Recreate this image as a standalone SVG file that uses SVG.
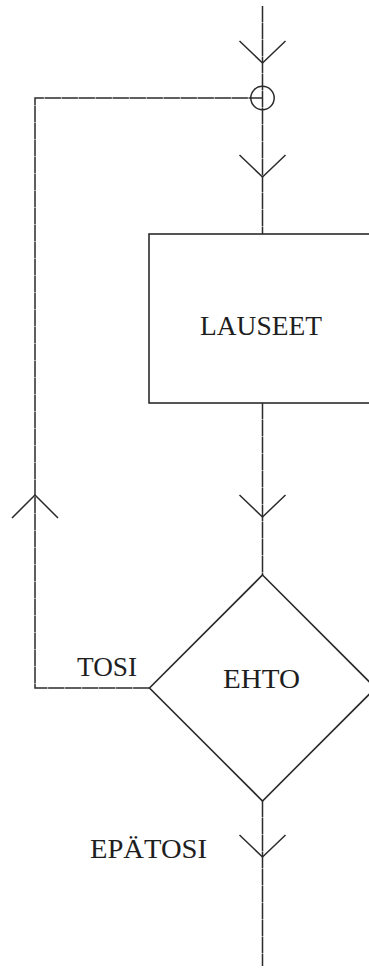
<svg xmlns="http://www.w3.org/2000/svg" width="369" height="969" viewBox="0 0 369 969">
  <style>
    .ln { fill: none; stroke: #2b2b2b; stroke-width: 1.5; stroke-linecap: butt; }
    .flow { stroke-dasharray: 16.4 0.6; }
    .shape { fill: #ffffff; stroke: #2b2b2b; stroke-width: 1.6; }
    .lbl { font-family: "Liberation Serif", "DejaVu Serif", serif; font-size: 27px; fill: #1e1e1e; }
  </style>
  <defs>
    <!-- open V arrowhead pointing down, tip at origin -->
    <path id="vdown" class="ln" d="M -23 -22 L 0 0 L 23 -22"/>
  </defs>
  <rect width="369" height="969" fill="#ffffff"/>

  <g id="connectors">
    <!-- main vertical flow -->
    <line class="ln flow" x1="262.5" y1="6" x2="262.5" y2="234"/>
    <line class="ln flow" x1="262.5" y1="403" x2="262.5" y2="575"/>
    <line class="ln flow" x1="262.5" y1="801" x2="262.5" y2="966"/>
    <!-- loop back from the TOSI branch -->
    <polyline class="ln flow" points="149.5,688 35,688 35,98 262.5,98"/>
    <!-- arrowheads -->
    <use href="#vdown" x="262.5" y="63"/>
    <use href="#vdown" x="262.5" y="177"/>
    <use href="#vdown" x="262.5" y="517"/>
    <use href="#vdown" x="262.5" y="857"/>
    <path class="ln" d="M 12 518 L 35 495 L 58 518"/>
  </g>

  <g id="join">
    <circle cx="262.5" cy="98" r="11.7" fill="none" stroke="#2b2b2b" stroke-width="1.5"/>
  </g>

  <g id="lauseet">
    <rect class="shape" x="149" y="234" width="227" height="169"/>
    <text class="lbl" x="200" y="335" textLength="122" lengthAdjust="spacingAndGlyphs">LAUSEET</text>
  </g>

  <g id="ehto">
    <polygon class="shape" points="262.5,575 375.5,688 262.5,801 149.5,688"/>
    <text class="lbl" x="223" y="688" textLength="77" lengthAdjust="spacingAndGlyphs">EHTO</text>
  </g>

  <g id="labels">
    <text class="lbl" x="77" y="676" textLength="60" lengthAdjust="spacingAndGlyphs">TOSI</text>
    <text class="lbl" x="90" y="858" textLength="117" lengthAdjust="spacingAndGlyphs">EPÄTOSI</text>
  </g>
</svg>
